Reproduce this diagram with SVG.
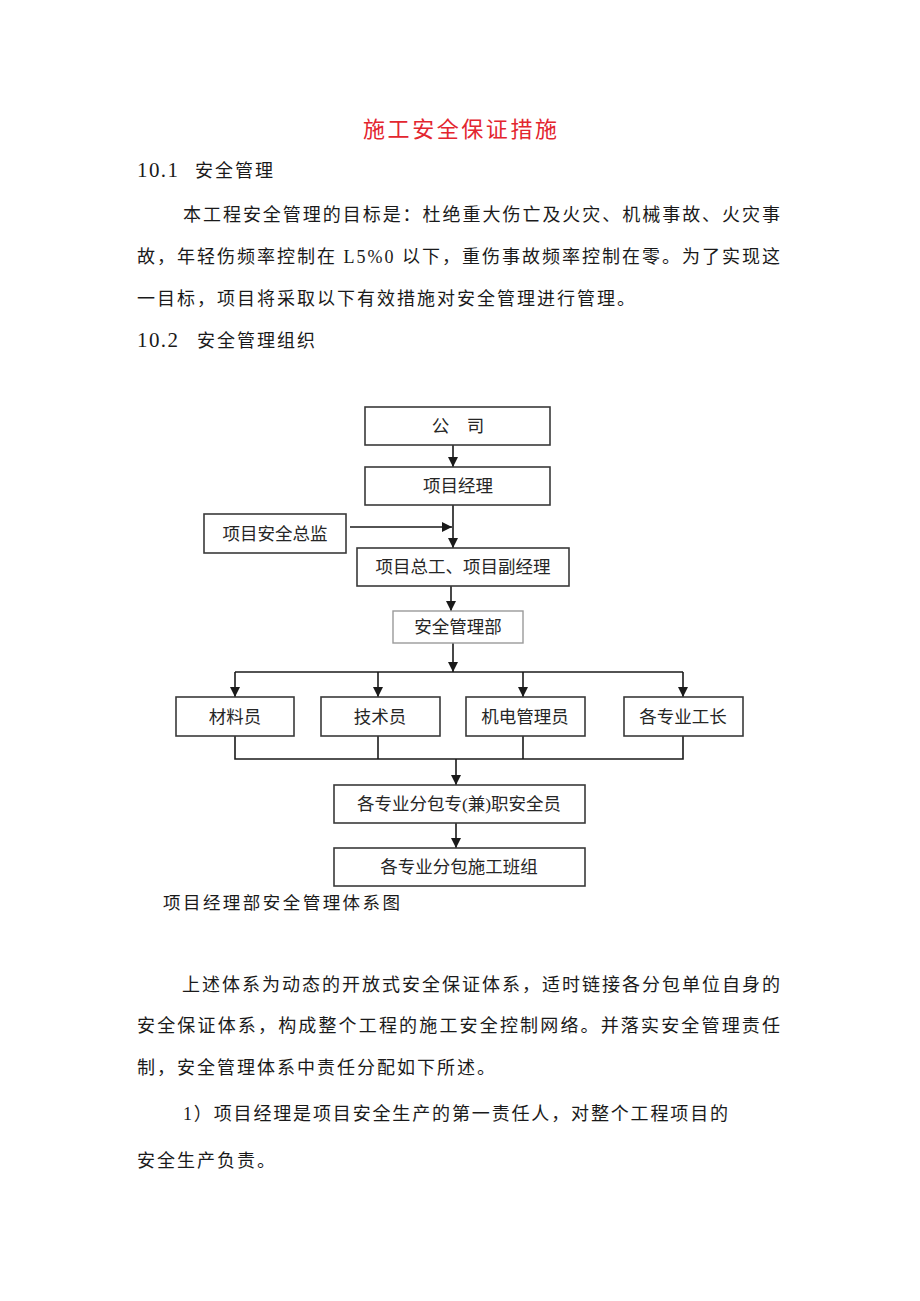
<svg xmlns="http://www.w3.org/2000/svg" width="920" height="1301" viewBox="0 0 920 1301">
<style>
.bg{fill:#ffffff}
.title{font-family:"Liberation Serif","Noto Sans CJK SC",serif;font-size:22px;fill:#e3262f}
.body{font-family:"Liberation Serif","Noto Sans CJK SC",serif;font-size:18px;fill:#1a1a1a;letter-spacing:2px}
.head{font-family:"Liberation Serif","Noto Sans CJK SC",serif;font-size:21px;fill:#1a1a1a}
.box{fill:#ffffff;stroke:#3a3a3a;stroke-width:1.6}
.boxl{fill:#ffffff;stroke:#9a9a9a;stroke-width:1.4}
.lbl{font-family:"Liberation Serif","Noto Sans CJK SC",serif;font-size:17.5px;fill:#262626;text-anchor:middle}
.con{fill:none;stroke:#1a1a1a;stroke-width:1.6}
.cap{font-family:"Liberation Serif","Noto Sans CJK SC",serif;font-size:17.5px;fill:#1a1a1a}
</style>
<defs>
<marker id="ah" viewBox="0 0 10 10" refX="10" refY="5" markerWidth="10" markerHeight="10" markerUnits="userSpaceOnUse" orient="auto">
<path d="M0,0 L10,5 L0,10 Z" fill="#1a1a1a"/>
</marker>
</defs>
<rect class="bg" x="0" y="0" width="920" height="1301"/>

<text class="title" x="363" y="137" textLength="194" lengthAdjust="spacing">施工安全保证措施</text>

<text class="head" x="137" y="177" textLength="41" lengthAdjust="spacing">10.1</text>
<text class="body" x="195" y="177" font-size="19">安全管理</text>

<text class="body" x="183" y="221" textLength="599" lengthAdjust="spacing">本工程安全管理的目标是：杜绝重大伤亡及火灾、机械事故、火灾事</text>
<text class="body" x="137" y="263" textLength="645" lengthAdjust="spacing">故，年轻伤频率控制在 L5%0 以下，重伤事故频率控制在零。为了实现这</text>
<text class="body" x="137" y="305">一目标，项目将采取以下有效措施对安全管理进行管理。</text>

<text class="head" x="137" y="347" textLength="41" lengthAdjust="spacing">10.2</text>
<text class="body" x="197" y="347" font-size="19">安全管理组织</text>

<g id="connectors">
<line class="con" x1="453" y1="445" x2="453" y2="467" marker-end="url(#ah)"/>
<line class="con" x1="453" y1="505" x2="453" y2="548" marker-end="url(#ah)"/>
<line class="con" x1="350" y1="527" x2="452" y2="527" marker-end="url(#ah)"/>
<line class="con" x1="451" y1="586" x2="451" y2="611" marker-end="url(#ah)"/>
<line class="con" x1="453" y1="643" x2="453" y2="672" marker-end="url(#ah)"/>
<line class="con" x1="235" y1="672" x2="683" y2="672"/>
<line class="con" x1="235" y1="672" x2="235" y2="697" marker-end="url(#ah)"/>
<line class="con" x1="378" y1="672" x2="378" y2="697" marker-end="url(#ah)"/>
<line class="con" x1="523" y1="672" x2="523" y2="697" marker-end="url(#ah)"/>
<line class="con" x1="683" y1="672" x2="683" y2="697" marker-end="url(#ah)"/>
<polyline class="con" points="235,736 235,759 683,759 683,736"/>
<line class="con" x1="378" y1="736" x2="378" y2="759"/>
<line class="con" x1="523" y1="736" x2="523" y2="759"/>
<line class="con" x1="456" y1="759" x2="456" y2="785" marker-end="url(#ah)"/>
<line class="con" x1="456" y1="823" x2="456" y2="848" marker-end="url(#ah)"/>
</g>

<g id="n-company">
<rect class="box" x="365" y="407" width="185" height="38"/>
<text class="lbl" x="458" y="432">公　司</text>
</g>
<g id="n-pm">
<rect class="box" x="365" y="467" width="185" height="38"/>
<text class="lbl" x="458" y="492">项目经理</text>
</g>
<g id="n-safety-director">
<rect class="box" x="204" y="514" width="142" height="39"/>
<text class="lbl" x="275" y="540">项目安全总监</text>
</g>
<g id="n-chief">
<rect class="box" x="357" y="548" width="212" height="38"/>
<text class="lbl" x="463" y="573">项目总工、项目副经理</text>
</g>
<g id="n-safety-dept">
<rect class="boxl" x="393" y="611" width="130" height="32"/>
<text class="lbl" x="458" y="633">安全管理部</text>
</g>
<g id="n-material">
<rect class="box" x="176" y="697" width="118" height="39"/>
<text class="lbl" x="235" y="723">材料员</text>
</g>
<g id="n-tech">
<rect class="box" x="321" y="697" width="119" height="39"/>
<text class="lbl" x="380" y="723">技术员</text>
</g>
<g id="n-me">
<rect class="box" x="466" y="697" width="119" height="39"/>
<text class="lbl" x="525" y="723">机电管理员</text>
</g>
<g id="n-foreman">
<rect class="box" x="624" y="697" width="119" height="39"/>
<text class="lbl" x="683" y="723">各专业工长</text>
</g>
<g id="n-sub-safety">
<rect class="box" x="334" y="785" width="251" height="38"/>
<text class="lbl" x="459" y="810">各专业分包专(兼)职安全员</text>
</g>
<g id="n-sub-team">
<rect class="box" x="334" y="848" width="251" height="38"/>
<text class="lbl" x="459" y="873">各专业分包施工班组</text>
</g>

<text class="cap" x="163" y="909" textLength="237" lengthAdjust="spacing">项目经理部安全管理体系图</text>

<text class="body" x="182" y="991" textLength="600" lengthAdjust="spacing">上述体系为动态的开放式安全保证体系，适时链接各分包单位自身的</text>
<text class="body" x="137" y="1032" textLength="645" lengthAdjust="spacing">安全保证体系，构成整个工程的施工安全控制网络。并落实安全管理责任</text>
<text class="body" x="137" y="1074">制，安全管理体系中责任分配如下所述。</text>
<text class="body" x="183" y="1120" textLength="547" lengthAdjust="spacing">1）项目经理是项目安全生产的第一责任人，对整个工程项目的</text>
<text class="body" x="137" y="1167">安全生产负责。</text>
</svg>
